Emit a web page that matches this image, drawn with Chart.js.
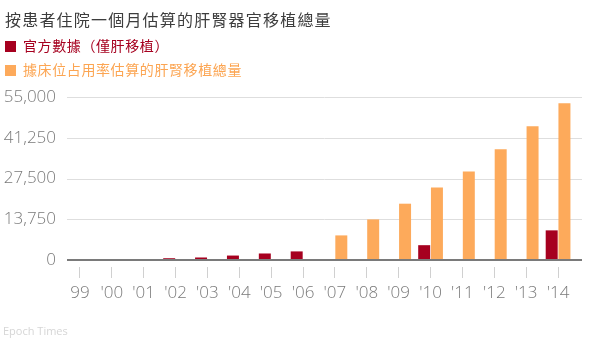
<!DOCTYPE html>
<html>
<head>
<meta charset="utf-8">
<script src="https://cdn.jsdelivr.net/npm/chart.js@4/dist/chart.umd.min.js"></script>
<style>
  body { margin: 0; background: #fff; }
  #wrap { position: relative; width: 600px; height: 338px; overflow: hidden; }
  #myChart { position: absolute; left: 0; top: 0; }
  .title { position: absolute; left: 5px; top: 7px; font: 16px "Noto Sans CJK TC", sans-serif; letter-spacing: 1.2px; color: #3d3d3d; white-space: nowrap; }
  .leg { position: absolute; left: 5px; font: 14px "Noto Sans CJK TC", sans-serif; letter-spacing: 0.6px; white-space: nowrap; }
  .leg span.box { display: inline-block; width: 11px; height: 11px; margin-right: 7px; vertical-align: -1px; }
  .src { position: absolute; left: 3px; top: 323px; font: 11px "Open Sans", sans-serif; color: #d6d6d6; }
</style>
</head>
<body>
<div id="wrap">
  <canvas id="myChart" width="600" height="338"></canvas>
  <div class="title">按患者住院一個月估算的肝腎器官移植總量</div>
  <div class="leg" id="leg1" style="top:35px"></div>
  <div class="leg" id="leg2" style="top:59px"></div>
  <div class="src">Epoch Times</div>
</div>
<script>
// Years along the x axis
var years = ["99", "'00", "'01", "'02", "'03", "'04", "'05", "'06", "'07", "'08", "'09", "'10", "'11", "'12", "'13", "'14"];
// Official figures, liver transplants only
var officialLiver = [50, 150, 300, 600, 850, 1500, 2200, 2900, null, null, null, 5000, null, null, null, 10000];
// Estimate from bed occupancy, liver + kidney
var bedEstimate = [null, null, null, null, null, null, null, null, 8300, 13700, 19000, 24500, 29900, 37400, 45100, 52900];
// Y axis ticks
var yTicks = [0, 13750, 27500, 41250, 55000];

var seriesNames = ["官方數據（僅肝移植）", "據床位占用率估算的肝腎移植總量"];
var red = "#a6001f";
var orange = "#fdaa5b";

// Legend in html, one row per series
function legendRow(id, name, color, textColor) {
  var el = document.getElementById(id);
  el.innerHTML = '<span class="box" style="background:' + color + '"></span>' + name;
  el.style.color = textColor;
}
legendRow("leg1", seriesNames[0], red, "#a6001f");
legendRow("leg2", seriesNames[1], orange, "#fca552");

// Gridlines run a bit wider than the plot area
var gridLines = {
  id: 'gridLines',
  beforeDatasetsDraw: function (chart) {
    var ctx = chart.ctx, y = chart.scales.y;
    ctx.save();
    ctx.strokeStyle = '#dedede';
    ctx.lineWidth = 1;
    yTicks.forEach(function (v) {
      if (v === 0) return;
      var py = Math.round(y.getPixelForValue(v)) + 0.5;
      ctx.beginPath();
      ctx.moveTo(67, py);
      ctx.lineTo(582, py);
      ctx.stroke();
    });
    ctx.restore();
  },
  afterDatasetsDraw: function (chart) {
    var ctx = chart.ctx, y = chart.scales.y;
    var py = Math.round(y.getPixelForValue(0));
    ctx.save();
    ctx.strokeStyle = '#7a7a7a';
    ctx.lineWidth = 2;
    ctx.beginPath();
    ctx.moveTo(67, py);
    ctx.lineTo(582, py);
    ctx.stroke();
    ctx.restore();
  }
};

var tickFont = { family: "'Open Sans', sans-serif", size: 17, weight: '300' };

var myChart = new Chart(document.getElementById('myChart'), {
  type: 'bar',
  data: {
    labels: years,
    datasets: [
      { label: seriesNames[0], data: officialLiver, backgroundColor: red },
      { label: seriesNames[1], data: bedEstimate, backgroundColor: orange }
    ]
  },
  options: {
    responsive: false,
    animation: false,
    layout: { padding: { top: 97, right: 26, left: 0, bottom: 0 } },
    datasets: { bar: { categoryPercentage: 0.8, barPercentage: 0.94 } },
    plugins: { legend: { display: false }, tooltip: { enabled: false } },
    scales: {
      x: {
        offset: true,
        border: { display: false },
        grid: {
          display: true,
          drawOnChartArea: false,
          offset: false,
          color: '#d0d0d0',
          tickLength: 20,
          tickBorderDash: [0, 7, 11, 30],
          tickColor: '#d0d0d0'
        },
        ticks: { color: '#7a7a7a', font: tickFont, padding: 3, maxRotation: 0, autoSkip: false },
        afterFit: function (s) { s.height = 78; }
      },
      y: {
        min: 0,
        max: 55000,
        border: { display: false },
        grid: { display: false, drawTicks: false },
        afterBuildTicks: function (s) { s.ticks = yTicks.map(function (v) { return { value: v }; }); },
        ticks: { color: '#7a7a7a', font: tickFont, padding: 8 },
        afterFit: function (s) { s.width = 64; }
      }
    }
  },
  plugins: [gridLines]
});
</script>
</body>
</html>
